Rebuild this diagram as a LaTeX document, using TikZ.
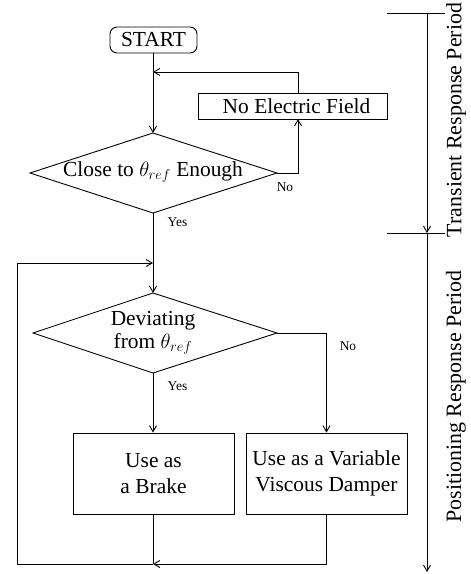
\documentclass[tikz,border=0pt]{standalone}
\usepackage{fontspec}
\setmainfont{Liberation Serif}
\usetikzlibrary{arrows.meta}
\begin{document}
\begin{tikzpicture}[x=1bp,y=-1bp, line width=0.9bp,
  >={Straight Barb[length=6bp,width=7bp]},
  big/.style={font=\fontsize{21.5}{26}\selectfont},
  small/.style={font=\fontsize{13.5}{15}\selectfont, inner sep=0},
  box/.style={draw, rectangle, inner sep=0, big, align=center},
  txt/.style={inner sep=0, big, align=center},
  side/.style={inner sep=0, font=\fontsize{22}{26}\selectfont, rotate=90}]
\useasboundingbox (0,0) rectangle (471,574);
% start
\node[box, rounded corners=7bp, minimum width=87bp, minimum height=26bp] (start) at (153.5,40) {START};
\coordinate (j1) at (153,72);
% no electric field
\node[box, minimum width=189bp, minimum height=26bp] (nef) at (292.5,106) {\hspace{8bp}No Electric Field};
\coordinate (neft) at (298,93);
\coordinate (nefb) at (298,119);
% diamond 1
\coordinate (d1t) at (153,133);
\coordinate (d1b) at (153,213);
\coordinate (d1l) at (30,173);
\coordinate (d1r) at (277,173);
\draw (d1t) -- (d1r) -- (d1b) -- (d1l) -- cycle;
\node[txt] (d1) at (153,172) {Close to $\theta_{ref}$ Enough};
% diamond 2
\coordinate (j2) at (153,263);
\coordinate (d2t) at (153,293);
\coordinate (d2b) at (153,373);
\coordinate (d2l) at (33,333);
\coordinate (d2r) at (277,333);
\draw (d2t) -- (d2r) -- (d2b) -- (d2l) -- cycle;
\node[txt, font=\fontsize{21.5}{23}\selectfont] (d2) at (153,333) {Deviating\\from $\theta_{ref}$};
% boxes
\node[box, minimum width=161bp, minimum height=81bp] (brake) at (153.5,473.5) {Use as\\a Brake};
\node[box, minimum width=161bp, minimum height=81bp] (damp) at (326.5,473.5) {Use as a Variable\\Viscous Damper};
\coordinate (m) at (153,564);
\coordinate (bl) at (17,564);
\coordinate (tl) at (17,263);
% connectors
\draw[->] (start.south -| j1) -- (d1t);
\draw[->] (neft) |- (j1);
\draw[->] (d1r) -| (nefb);
\draw[->] (d1b) -- (d2t);
\draw[->] (d2b) -- (brake.north -| d2b);
\draw[->] (d2r) -| (damp.north);
\draw (brake.south -| m) -- (m);
\draw[->] (damp.south) |- (m);
\draw[->] (m) -- (bl) -- (tl) -- (j2);
% labels
\node[small] (no1) at (285,187) {No};
\node[small] (yes1) at (177.5,222) {Yes};
\node[small] (no2) at (348,346) {No};
\node[small] (yes2) at (177.5,386) {Yes};
% period axis
\coordinate (a0) at (427,13);
\coordinate (a1) at (427,233);
\coordinate (a2) at (427,572);
\draw (387,13) -- (445,13);
\draw (387,233) -- (445,233);
\draw[draw=black!25] (387,574) -- (445,574);
\draw[->] (a0) -- (a1);
\draw[->] (a1) -- (a2);
\node[side] (tr) at (456,120) {Transient Response Period};
\node[side] (pr) at (456,396.5) {Positioning Response Period};
\end{tikzpicture}
\end{document}
